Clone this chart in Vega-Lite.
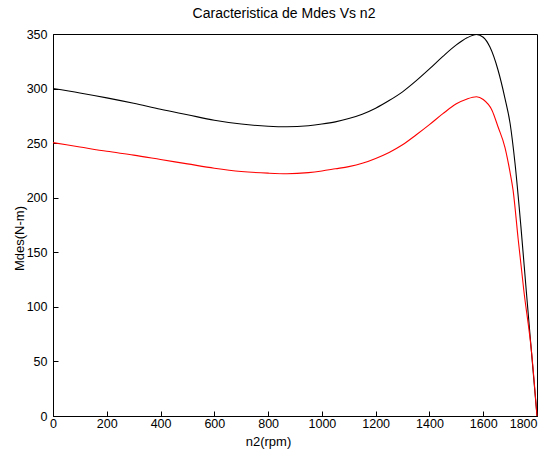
{
  "$schema": "https://vega.github.io/schema/vega-lite/v6.json",
  "width": 484,
  "height": 382,
  "autosize": {"type": "none"},
  "padding": {"left": 53, "top": 34, "right": 6, "bottom": 35},
  "background": "white",
  "config": {
    "font": "Liberation Sans",
    "view": {"stroke": "black", "strokeWidth": 1},
    "axis": {
      "domainColor": "black",
      "tickColor": "black",
      "labelColor": "black",
      "titleColor": "black",
      "labelFont": "Liberation Sans",
      "titleFont": "Liberation Sans",
      "labelFontSize": 12.5,
      "titleFontSize": 13,
      "titleFontWeight": "normal",
      "grid": false,
      "tickSize": -5
    }
  },
  "title": {
    "text": "Caracteristica de Mdes Vs n2",
    "fontSize": 14,
    "fontWeight": "normal",
    "font": "Liberation Sans",
    "color": "black",
    "anchor": "middle",
    "dx": -11,
    "dy": 17,
    "offset": 10,
    "baseline": "bottom"
  },
  "data": {
    "values": [
      {"n2": 0, "Mdes": 300, "s": "a"},
      {"n2": 100, "Mdes": 296, "s": "a"},
      {"n2": 200, "Mdes": 291.5, "s": "a"},
      {"n2": 300, "Mdes": 286.5, "s": "a"},
      {"n2": 400, "Mdes": 281, "s": "a"},
      {"n2": 500, "Mdes": 276, "s": "a"},
      {"n2": 600, "Mdes": 271, "s": "a"},
      {"n2": 700, "Mdes": 267.5, "s": "a"},
      {"n2": 800, "Mdes": 265.5, "s": "a"},
      {"n2": 870, "Mdes": 265, "s": "a"},
      {"n2": 950, "Mdes": 266, "s": "a"},
      {"n2": 1000, "Mdes": 267.5, "s": "a"},
      {"n2": 1050, "Mdes": 269.5, "s": "a"},
      {"n2": 1100, "Mdes": 272.5, "s": "a"},
      {"n2": 1150, "Mdes": 276.5, "s": "a"},
      {"n2": 1200, "Mdes": 282, "s": "a"},
      {"n2": 1250, "Mdes": 289, "s": "a"},
      {"n2": 1300, "Mdes": 297, "s": "a"},
      {"n2": 1350, "Mdes": 307, "s": "a"},
      {"n2": 1400, "Mdes": 318, "s": "a"},
      {"n2": 1450, "Mdes": 329.5, "s": "a"},
      {"n2": 1500, "Mdes": 340, "s": "a"},
      {"n2": 1540, "Mdes": 346.5, "s": "a"},
      {"n2": 1575, "Mdes": 349.5, "s": "a"},
      {"n2": 1600, "Mdes": 347, "s": "a"},
      {"n2": 1625, "Mdes": 338, "s": "a"},
      {"n2": 1655, "Mdes": 317, "s": "a"},
      {"n2": 1680, "Mdes": 292, "s": "a"},
      {"n2": 1700, "Mdes": 268, "s": "a"},
      {"n2": 1718, "Mdes": 232, "s": "a"},
      {"n2": 1740, "Mdes": 174, "s": "a"},
      {"n2": 1760, "Mdes": 115, "s": "a"},
      {"n2": 1780, "Mdes": 57, "s": "a"},
      {"n2": 1800, "Mdes": 0, "s": "a"},
      {"n2": 0, "Mdes": 250.5, "s": "b"},
      {"n2": 100, "Mdes": 246.5, "s": "b"},
      {"n2": 200, "Mdes": 242.5, "s": "b"},
      {"n2": 300, "Mdes": 239, "s": "b"},
      {"n2": 400, "Mdes": 235, "s": "b"},
      {"n2": 500, "Mdes": 231, "s": "b"},
      {"n2": 600, "Mdes": 227, "s": "b"},
      {"n2": 700, "Mdes": 224, "s": "b"},
      {"n2": 800, "Mdes": 222.5, "s": "b"},
      {"n2": 870, "Mdes": 222, "s": "b"},
      {"n2": 950, "Mdes": 223, "s": "b"},
      {"n2": 1000, "Mdes": 224.5, "s": "b"},
      {"n2": 1050, "Mdes": 226.5, "s": "b"},
      {"n2": 1100, "Mdes": 228.5, "s": "b"},
      {"n2": 1150, "Mdes": 231.5, "s": "b"},
      {"n2": 1200, "Mdes": 236, "s": "b"},
      {"n2": 1250, "Mdes": 241.5, "s": "b"},
      {"n2": 1300, "Mdes": 248.5, "s": "b"},
      {"n2": 1350, "Mdes": 257.5, "s": "b"},
      {"n2": 1400, "Mdes": 267, "s": "b"},
      {"n2": 1450, "Mdes": 277, "s": "b"},
      {"n2": 1500, "Mdes": 286, "s": "b"},
      {"n2": 1540, "Mdes": 290.5, "s": "b"},
      {"n2": 1575, "Mdes": 292.5, "s": "b"},
      {"n2": 1600, "Mdes": 290, "s": "b"},
      {"n2": 1633, "Mdes": 280, "s": "b"},
      {"n2": 1655, "Mdes": 265, "s": "b"},
      {"n2": 1681, "Mdes": 246, "s": "b"},
      {"n2": 1700, "Mdes": 223, "s": "b"},
      {"n2": 1711, "Mdes": 207, "s": "b"},
      {"n2": 1730, "Mdes": 162, "s": "b"},
      {"n2": 1751, "Mdes": 115, "s": "b"},
      {"n2": 1780, "Mdes": 58, "s": "b"},
      {"n2": 1800, "Mdes": 0, "s": "b"}
    ]
  },
  "mark": {"type": "line", "strokeWidth": 1.1, "interpolate": "monotone"},
  "encoding": {
    "x": {
      "field": "n2",
      "type": "quantitative",
      "scale": {"domain": [0, 1800], "nice": false},
      "axis": {
        "title": "n2(rpm)",
        "format": "d",
        "values": [0, 200, 400, 600, 800, 1000, 1200, 1400, 1600, 1800],
        "labelPadding": 6,
        "labelAlign": {"condition": {"test": "datum.value == 1800", "value": "right"}, "value": "center"},
        "titleX": 215,
        "titleY": 29,
        "titleBaseline": "alphabetic",
        "titleAnchor": null
      }
    },
    "y": {
      "field": "Mdes",
      "type": "quantitative",
      "scale": {"domain": [0, 350], "nice": false},
      "axis": {
        "title": "Mdes(N-m)",
        "values": [0, 50, 100, 150, 200, 250, 300, 350],
        "labelPadding": 11,
        "titleX": -34,
        "titleY": 204,
        "titleBaseline": "middle",
        "titleAngle": -90
      }
    },
    "color": {
      "field": "s",
      "type": "nominal",
      "scale": {"domain": ["a", "b"], "range": ["#000000", "#ff0000"]},
      "legend": null
    },
    "order": {"field": "n2", "type": "quantitative"}
  }
}
